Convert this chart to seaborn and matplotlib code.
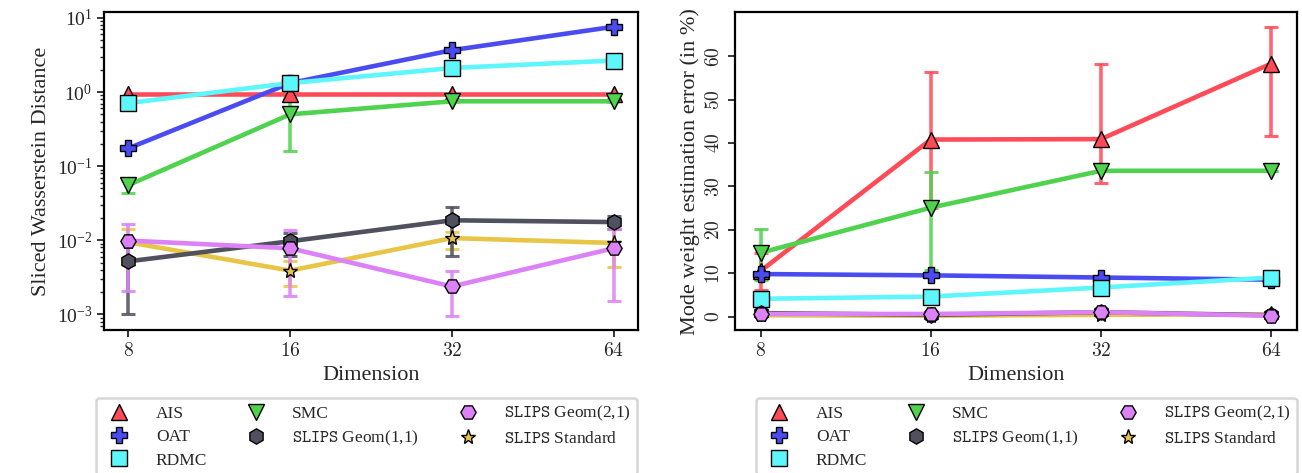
import numpy as np
import pandas as pd
import matplotlib
matplotlib.use("Agg")
import matplotlib.pyplot as plt
from matplotlib.lines import Line2D
from matplotlib.ticker import FuncFormatter, NullLocator
import seaborn as sns

# methods / styling
methods = ["AIS", "OAT", "RDMC", "SMC", "Geom11", "Geom21", "Standard"]
labels = ["AIS", "OAT", "RDMC", "SMC",
          r"$\mathtt{SLIPS}$ Geom(1,1)", r"$\mathtt{SLIPS}$ Geom(2,1)",
          r"$\mathtt{SLIPS}$ Standard"]
draw_order = ["AIS", "OAT", "RDMC", "SMC", "Standard", "Geom11", "Geom21"]
colors = ["#ff4b57", "#4b4bf2", "#5cf6fb", "#4fd34f", "#50505f", "#dc82f6", "#e8c547"]
marks = ["^", "P", "s", "v", "h", "H", "*"]

dims = [8, 16, 32, 64]

# Sliced Wasserstein distance (mean, lower bound, upper bound)
sw_mean = {
    "AIS": [0.95, 0.95, 0.95, 0.95],
    "OAT": [0.174, 1.32, 3.67, 7.6],
    "RDMC": [0.71, 1.32, 2.11, 2.66],
    "SMC": [0.0556, 0.50, 0.75, 0.75],
    "Geom11": [0.0052, 0.0097, 0.0186, 0.0176],
    "Geom21": [0.0099, 0.0078, 0.00238, 0.0078],
    "Standard": [0.0094, 0.0039, 0.0107, 0.0092],
}
sw_low = {
    "SMC": [0.043, 0.158, 0.75, 0.75],
    "Standard": [0.0046, 0.00245, 0.0076, 0.0044],
    "Geom11": [0.001, 0.0062, 0.0062, 0.0143],
    "Geom21": [0.0021, 0.00178, 0.00096, 0.0015],
}
sw_high = {
    "SMC": [0.068, 0.84, 0.75, 0.75],
    "Standard": [0.0142, 0.0053, 0.0128, 0.0142],
    "Geom11": [0.0094, 0.0127, 0.028, 0.021],
    "Geom21": [0.0165, 0.0139, 0.0038, 0.0141],
}

# Mode weight estimation error in %
mw_mean = {
    "AIS": [10.5, 40.8, 40.9, 58.3],
    "OAT": [9.8, 9.5, 9.0, 8.5],
    "RDMC": [4.1, 4.6, 6.7, 9.0],
    "SMC": [14.7, 25.1, 33.6, 33.6],
    "Geom11": [0.8, 0.4, 1.0, 0.3],
    "Geom21": [0.6, 0.6, 1.0, 0.2],
    "Standard": [0.3, 0.2, 0.4, 0.5],
}
mw_low = {
    "AIS": [6.2, 25.0, 30.9, 41.7],
    "SMC": [8.5, 10.8, 33.6, 33.6],
}
mw_high = {
    "AIS": [14.7, 56.4, 58.3, 66.8],
    "SMC": [20.1, 33.4, 33.6, 33.6],
}

sns.set_style("white")
plt.rcParams["font.family"] = "serif"
plt.rcParams["font.serif"] = ["Liberation Serif", "DejaVu Serif"]
plt.rcParams["mathtext.fontset"] = "cm"

pal = dict(zip(methods, colors))
mk = dict(zip(methods, marks))


def long_df(mean):
    rows = []
    for m in draw_order:
        for d, v in zip(dims, mean[m]):
            rows.append({"dim": d, "val": v, "method": m})
    return pd.DataFrame(rows)


def draw(ax, mean, low, high, leg_x):
    for m in draw_order:
        if m in low:
            y = np.array(mean[m])
            yerr = [y - np.array(low[m]), np.array(high[m]) - y]
            ax.errorbar(dims, y, yerr=yerr, fmt="none", ecolor=pal[m], alpha=0.85,
                        elinewidth=2.6, capsize=5, capthick=2.2, zorder=2)
    sns.lineplot(data=long_df(mean), x="dim", y="val", hue="method", style="method",
                 hue_order=draw_order, style_order=draw_order, palette=pal, markers=mk,
                 dashes=False, lw=3.3, ms=11, mec="black", mew=1.0, legend=False,
                 ax=ax, zorder=3)
    ax.set_xscale("log", base=2)
    ax.set_xticks(dims)
    ax.xaxis.set_major_formatter(FuncFormatter(lambda v, _: f"${v:g}$"))
    ax.xaxis.set_minor_locator(NullLocator())
    ax.set_xlabel("Dimension", fontsize=16, labelpad=4)
    for s in ax.spines.values():
        s.set_linewidth(1.6)
        s.set_color("black")
    ax.tick_params(axis="both", which="major", direction="out", length=5, width=1.3,
                   labelsize=14, left=True, bottom=True)
    ax.tick_params(axis="y", which="minor", direction="out", length=3, width=1.0, left=True)

    handles = [Line2D([], [], ls="none", marker=mk[m], color=pal[m], mec="black",
                      mew=1.0, ms=11) for m in methods]
    leg = ax.legend(handles, labels, loc="upper left",
                    bbox_to_anchor=(leg_x, 0.0586, 0.4155, 0.1),
                    bbox_transform=ax.figure.transFigure, borderaxespad=0,
                    mode="expand", ncol=3, fontsize=12.5, frameon=True, fancybox=True,
                    handletextpad=1.1, labelspacing=0.42, borderpad=0.35)
    leg.get_frame().set_edgecolor("#cccccc")
    leg.get_frame().set_linewidth(1.8)


fig = plt.figure(figsize=(13.02, 4.73), dpi=100)
ax1 = fig.add_axes([0.080, 0.302, 0.410, 0.672])
ax2 = fig.add_axes([0.5645, 0.302, 0.4315, 0.672])

draw(ax1, sw_mean, sw_low, sw_high, 0.0737)
ax1.set_yscale("log")
ax1.set_ylabel("Sliced Wasserstein Distance", fontsize=16)

draw(ax2, mw_mean, mw_low, mw_high, 0.5806)
ax2.set_yticks([0, 10, 20, 30, 40, 50, 60])
ax2.yaxis.set_major_formatter(FuncFormatter(lambda v, _: f"${v:g}$"))
for t in ax2.get_yticklabels():
    t.set_rotation(90)
    t.set_va("center")
ax2.set_ylabel("Mode weight estimation error (in %)", fontsize=16)

fig.savefig("out.png", dpi=100)
